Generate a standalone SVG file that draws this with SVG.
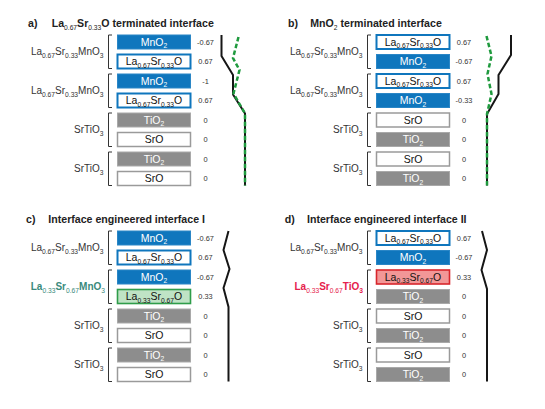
<svg xmlns="http://www.w3.org/2000/svg" width="545" height="409" viewBox="0 0 545 409">
<style>
text{font-family:"Liberation Sans",Arial,sans-serif}
.mn{fill:#0f76bd;stroke:#2a86c6;stroke-width:1}
.lso{fill:#fff;stroke:#0f76bd;stroke-width:2}
.ti{fill:#8d8d8d;stroke:#a9a9a9;stroke-width:1}
.sro{fill:#fff;stroke:#9a9a9a;stroke-width:1.5}
.lg{fill:#bfe3c5;stroke:#2f9d4a;stroke-width:1.6}
.lr{fill:#f29797;stroke:#d8262c;stroke-width:1.6}
.bt{font-size:10.5px;text-anchor:middle;fill:#111}
.w{fill:#fff}
.s{font-size:6.7px}
.num{font-size:7.4px;fill:#333;text-anchor:middle}
.lab{font-size:10px;fill:#333;text-anchor:end}
.tt{font-size:10.6px;font-weight:bold;fill:#222}
.br{fill:none;stroke:#333;stroke-width:1}
.pk{fill:none;stroke:#161616;stroke-width:2;stroke-linejoin:miter}
.pg{fill:none;stroke:#1f9a3e;stroke-width:2.5;stroke-dasharray:4.5 2.5}
</style>

<!-- Titles -->
<g id="titles">
<text class="tt" x="28" y="27.3">a)</text>
<text class="tt" x="51.7" y="27.3">La<tspan class="s" font-weight="normal" dy="2.5">0.67</tspan><tspan dy="-2.5">Sr</tspan><tspan class="s" font-weight="normal" dy="2.5">0.33</tspan><tspan dy="-2.5">O terminated interface</tspan></text>
<text class="tt" x="288" y="27.3">b)</text>
<text class="tt" x="310.3" y="27.3">MnO<tspan class="s" font-weight="normal" dy="2.5">2</tspan><tspan dy="-2.5"> terminated interface</tspan></text>
<text class="tt" x="26" y="223.3">c)</text>
<text class="tt" x="48.3" y="223.3">Interface engineered interface I</text>
<text class="tt" x="284.7" y="223.3">d)</text>
<text class="tt" x="307" y="223.3">Interface engineered interface II</text>
</g>

<!-- Panel a -->
<g id="panel-a">
<g id="a-labels">
<text class="lab" x="103.5" y="55.3">La<tspan class="s" dy="2.5">0.67</tspan><tspan dy="-2.5">Sr</tspan><tspan class="s" dy="2.5">0.33</tspan><tspan dy="-2.5">MnO</tspan><tspan class="s" dy="2.5">3</tspan></text>
<text class="lab" x="103.5" y="94.3">La<tspan class="s" dy="2.5">0.67</tspan><tspan dy="-2.5">Sr</tspan><tspan class="s" dy="2.5">0.33</tspan><tspan dy="-2.5">MnO</tspan><tspan class="s" dy="2.5">3</tspan></text>
<text class="lab" x="103.5" y="133.3">SrTiO<tspan class="s" dy="2.5">3</tspan></text>
<text class="lab" x="103.5" y="172.3">SrTiO<tspan class="s" dy="2.5">3</tspan></text>
<path class="br" d="M112,35H108.5V68.5H112M112,74H108.5V107.5H112M112,113H108.5V146.5H112M112,152H108.5V185.5H112"/>
</g>
<g id="a-l1"><rect class="mn" x="117.5" y="35" width="73" height="14"/><text class="bt w" x="154" y="45.5">MnO<tspan class="s" dy="2.5">2</tspan></text><text class="num" x="205.5" y="44.7">-0.67</text></g>
<g id="a-l2"><rect class="lso" x="117.5" y="54.5" width="73" height="14"/><text class="bt" x="154" y="65">La<tspan class="s" dy="2.5">0.67</tspan><tspan dy="-2.5">Sr</tspan><tspan class="s" dy="2.5">0.33</tspan><tspan dy="-2.5">O</tspan></text><text class="num" x="205.5" y="64.2">0.67</text></g>
<g id="a-l3"><rect class="mn" x="117.5" y="74" width="73" height="14"/><text class="bt w" x="154" y="84.5">MnO<tspan class="s" dy="2.5">2</tspan></text><text class="num" x="205.5" y="83.7">-1</text></g>
<g id="a-l4"><rect class="lso" x="117.5" y="93.5" width="73" height="14"/><text class="bt" x="154" y="104">La<tspan class="s" dy="2.5">0.67</tspan><tspan dy="-2.5">Sr</tspan><tspan class="s" dy="2.5">0.33</tspan><tspan dy="-2.5">O</tspan></text><text class="num" x="205.5" y="103.2">0.67</text></g>
<g id="a-l5"><rect class="ti" x="117.5" y="113" width="73" height="14"/><text class="bt w" x="154" y="123.5">TiO<tspan class="s" dy="2.5">2</tspan></text><text class="num" x="205.5" y="122.7">0</text></g>
<g id="a-l6"><rect class="sro" x="117.5" y="132.5" width="73" height="14"/><text class="bt" x="154" y="143">SrO</text><text class="num" x="205.5" y="142.2">0</text></g>
<g id="a-l7"><rect class="ti" x="117.5" y="152" width="73" height="14"/><text class="bt w" x="154" y="162.5">TiO<tspan class="s" dy="2.5">2</tspan></text><text class="num" x="205.5" y="161.7">0</text></g>
<g id="a-l8"><rect class="sro" x="117.5" y="171.5" width="73" height="14"/><text class="bt" x="154" y="182">SrO</text><text class="num" x="205.5" y="181.2">0</text></g>
</g>

<!-- Panel b -->
<g id="panel-b">
<g id="b-labels">
<text class="lab" x="362.5" y="55.3">La<tspan class="s" dy="2.5">0.67</tspan><tspan dy="-2.5">Sr</tspan><tspan class="s" dy="2.5">0.33</tspan><tspan dy="-2.5">MnO</tspan><tspan class="s" dy="2.5">3</tspan></text>
<text class="lab" x="362.5" y="94.3">La<tspan class="s" dy="2.5">0.67</tspan><tspan dy="-2.5">Sr</tspan><tspan class="s" dy="2.5">0.33</tspan><tspan dy="-2.5">MnO</tspan><tspan class="s" dy="2.5">3</tspan></text>
<text class="lab" x="362.5" y="133.3">SrTiO<tspan class="s" dy="2.5">3</tspan></text>
<text class="lab" x="362.5" y="172.3">SrTiO<tspan class="s" dy="2.5">3</tspan></text>
<path class="br" d="M371,35H367.5V68.5H371M371,74H367.5V107.5H371M371,113H367.5V146.5H371M371,152H367.5V185.5H371"/>
</g>
<g id="b-l1"><rect class="lso" x="376.5" y="35" width="73" height="14"/><text class="bt" x="413" y="45.5">La<tspan class="s" dy="2.5">0.67</tspan><tspan dy="-2.5">Sr</tspan><tspan class="s" dy="2.5">0.33</tspan><tspan dy="-2.5">O</tspan></text><text class="num" x="464" y="44.7">0.67</text></g>
<g id="b-l2"><rect class="mn" x="376.5" y="54.5" width="73" height="14"/><text class="bt w" x="413" y="65">MnO<tspan class="s" dy="2.5">2</tspan></text><text class="num" x="464" y="64.2">-0.67</text></g>
<g id="b-l3"><rect class="lso" x="376.5" y="74" width="73" height="14"/><text class="bt" x="413" y="84.5">La<tspan class="s" dy="2.5">0.67</tspan><tspan dy="-2.5">Sr</tspan><tspan class="s" dy="2.5">0.33</tspan><tspan dy="-2.5">O</tspan></text><text class="num" x="464" y="83.7">0.67</text></g>
<g id="b-l4"><rect class="mn" x="376.5" y="93.5" width="73" height="14"/><text class="bt w" x="413" y="104">MnO<tspan class="s" dy="2.5">2</tspan></text><text class="num" x="464" y="103.2">-0.33</text></g>
<g id="b-l5"><rect class="sro" x="376.5" y="113" width="73" height="14"/><text class="bt" x="413" y="123.5">SrO</text><text class="num" x="464" y="122.7">0</text></g>
<g id="b-l6"><rect class="ti" x="376.5" y="132.5" width="73" height="14"/><text class="bt w" x="413" y="143">TiO<tspan class="s" dy="2.5">2</tspan></text><text class="num" x="464" y="142.2">0</text></g>
<g id="b-l7"><rect class="sro" x="376.5" y="152" width="73" height="14"/><text class="bt" x="413" y="162.5">SrO</text><text class="num" x="464" y="161.7">0</text></g>
<g id="b-l8"><rect class="ti" x="376.5" y="171.5" width="73" height="14"/><text class="bt w" x="413" y="182">TiO<tspan class="s" dy="2.5">2</tspan></text><text class="num" x="464" y="181.2">0</text></g>
</g>

<!-- Panel c -->
<g id="panel-c">
<g id="c-labels">
<text class="lab" x="103.5" y="251.3">La<tspan class="s" dy="2.5">0.67</tspan><tspan dy="-2.5">Sr</tspan><tspan class="s" dy="2.5">0.33</tspan><tspan dy="-2.5">MnO</tspan><tspan class="s" dy="2.5">3</tspan></text>
<text class="lab" x="105" y="290.3" style="fill:#3a8a7c;font-weight:bold">La<tspan class="s" font-weight="normal" dy="2.5">0.33</tspan><tspan dy="-2.5">Sr</tspan><tspan class="s" font-weight="normal" dy="2.5">0.67</tspan><tspan dy="-2.5">MnO</tspan><tspan class="s" font-weight="normal" dy="2.5">3</tspan></text>
<text class="lab" x="103.5" y="329.3">SrTiO<tspan class="s" dy="2.5">3</tspan></text>
<text class="lab" x="103.5" y="368.3">SrTiO<tspan class="s" dy="2.5">3</tspan></text>
<path class="br" d="M112,231H108.5V264.5H112M112,270H108.5V303.5H112M112,309H108.5V342.5H112M112,348H108.5V381.5H112"/>
</g>
<g id="c-l1"><rect class="mn" x="117.5" y="231" width="73" height="14"/><text class="bt w" x="154" y="241.5">MnO<tspan class="s" dy="2.5">2</tspan></text><text class="num" x="205.5" y="240.7">-0.67</text></g>
<g id="c-l2"><rect class="lso" x="117.5" y="250.5" width="73" height="14"/><text class="bt" x="154" y="261">La<tspan class="s" dy="2.5">0.67</tspan><tspan dy="-2.5">Sr</tspan><tspan class="s" dy="2.5">0.33</tspan><tspan dy="-2.5">O</tspan></text><text class="num" x="205.5" y="260.2">0.67</text></g>
<g id="c-l3"><rect class="mn" x="117.5" y="270" width="73" height="14"/><text class="bt w" x="154" y="280.5">MnO<tspan class="s" dy="2.5">2</tspan></text><text class="num" x="205.5" y="279.7">-0.67</text></g>
<g id="c-l4"><rect class="lg" x="117.5" y="289.5" width="73" height="14"/><text class="bt" x="154" y="300">La<tspan class="s" dy="2.5">0.33</tspan><tspan dy="-2.5">Sr</tspan><tspan class="s" dy="2.5">0.67</tspan><tspan dy="-2.5">O</tspan></text><text class="num" x="205.5" y="299.2">0.33</text></g>
<g id="c-l5"><rect class="ti" x="117.5" y="309" width="73" height="14"/><text class="bt w" x="154" y="319.5">TiO<tspan class="s" dy="2.5">2</tspan></text><text class="num" x="205.5" y="318.7">0</text></g>
<g id="c-l6"><rect class="sro" x="117.5" y="328.5" width="73" height="14"/><text class="bt" x="154" y="339">SrO</text><text class="num" x="205.5" y="338.2">0</text></g>
<g id="c-l7"><rect class="ti" x="117.5" y="348" width="73" height="14"/><text class="bt w" x="154" y="358.5">TiO<tspan class="s" dy="2.5">2</tspan></text><text class="num" x="205.5" y="357.7">0</text></g>
<g id="c-l8"><rect class="sro" x="117.5" y="367.5" width="73" height="14"/><text class="bt" x="154" y="378">SrO</text><text class="num" x="205.5" y="377.2">0</text></g>
</g>

<!-- Panel d -->
<g id="panel-d">
<g id="d-labels">
<text class="lab" x="362.5" y="251.3">La<tspan class="s" dy="2.5">0.67</tspan><tspan dy="-2.5">Sr</tspan><tspan class="s" dy="2.5">0.33</tspan><tspan dy="-2.5">MnO</tspan><tspan class="s" dy="2.5">3</tspan></text>
<text class="lab" x="363" y="290.3" style="fill:#e5214c;font-weight:bold">La<tspan class="s" font-weight="normal" dy="2.5">0.33</tspan><tspan dy="-2.5">Sr</tspan><tspan class="s" font-weight="normal" dy="2.5">0.67</tspan><tspan dy="-2.5">TiO</tspan><tspan class="s" dy="2.5">3</tspan></text>
<text class="lab" x="362.5" y="329.3">SrTiO<tspan class="s" dy="2.5">3</tspan></text>
<text class="lab" x="362.5" y="368.3">SrTiO<tspan class="s" dy="2.5">3</tspan></text>
<path class="br" d="M371,231H367.5V264.5H371M371,270H367.5V303.5H371M371,309H367.5V342.5H371M371,348H367.5V381.5H371"/>
</g>
<g id="d-l1"><rect class="lso" x="376.5" y="231" width="73" height="14"/><text class="bt" x="413" y="241.5">La<tspan class="s" dy="2.5">0.67</tspan><tspan dy="-2.5">Sr</tspan><tspan class="s" dy="2.5">0.33</tspan><tspan dy="-2.5">O</tspan></text><text class="num" x="464" y="240.7">0.67</text></g>
<g id="d-l2"><rect class="mn" x="376.5" y="250.5" width="73" height="14"/><text class="bt w" x="413" y="261">MnO<tspan class="s" dy="2.5">2</tspan></text><text class="num" x="464" y="260.2">-0.67</text></g>
<g id="d-l3"><rect class="lr" x="376.5" y="270" width="73" height="14"/><text class="bt" x="413" y="280.5">La<tspan class="s" dy="2.5">0.33</tspan><tspan dy="-2.5">Sr</tspan><tspan class="s" dy="2.5">0.67</tspan><tspan dy="-2.5">O</tspan></text><text class="num" x="464" y="279.7">0.33</text></g>
<g id="d-l4"><rect class="ti" x="376.5" y="289.5" width="73" height="14"/><text class="bt w" x="413" y="300">TiO<tspan class="s" dy="2.5">2</tspan></text><text class="num" x="464" y="299.2">0</text></g>
<g id="d-l5"><rect class="sro" x="376.5" y="309" width="73" height="14"/><text class="bt" x="413" y="319.5">SrO</text><text class="num" x="464" y="318.7">0</text></g>
<g id="d-l6"><rect class="ti" x="376.5" y="328.5" width="73" height="14"/><text class="bt w" x="413" y="339">TiO<tspan class="s" dy="2.5">2</tspan></text><text class="num" x="464" y="338.2">0</text></g>
<g id="d-l7"><rect class="sro" x="376.5" y="348" width="73" height="14"/><text class="bt" x="413" y="358.5">SrO</text><text class="num" x="464" y="357.7">0</text></g>
<g id="d-l8"><rect class="ti" x="376.5" y="367.5" width="73" height="14"/><text class="bt w" x="413" y="378">TiO<tspan class="s" dy="2.5">2</tspan></text><text class="num" x="464" y="377.2">0</text></g>
</g>

<!-- Connectors / potential profiles -->
<g id="connectors">
<path class="pk" d="M221.5,35V56L233,75V94.5L245,113.5V185.5"/>
<path class="pg" d="M238.5,37L233,58L239.5,70L233.5,93.5L245,113.5V185.5"/>
<path class="pk" d="M511,35V55L498.5,75V94L487,114V185.5"/>
<path class="pg" d="M486.5,36L491.5,56L487.5,74L491.5,94L487,114V185.5"/>
<path class="pk" d="M228.5,231L223.5,250L229.5,269L223.5,288L228.5,307V381.5"/>
<path class="pk" d="M482,231L487,250L481.5,270L487,289V381.5"/>
</g>
</svg>
